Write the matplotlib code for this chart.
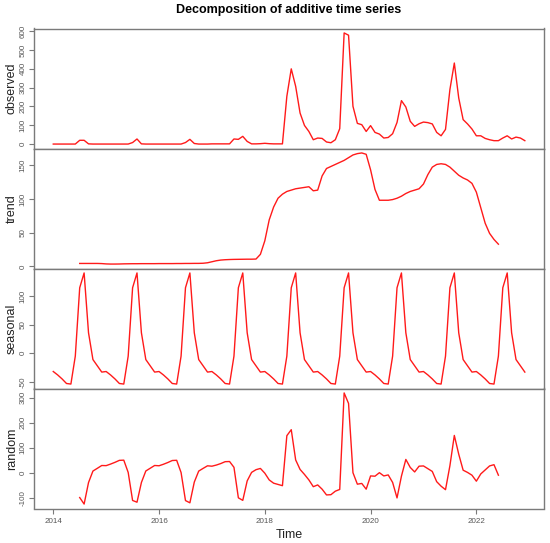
import numpy as np
import matplotlib
matplotlib.use("Agg")
import matplotlib.pyplot as plt

plt.rcParams['font.family'] = ['Liberation Sans', 'DejaVu Sans']

nan = np.nan
start_year = 2014
n_months = 108

observed = [
    0, 0, 0, 0, 0, 0, 20, 20, 1, 0, 0, 0,
    0, 0, 0, 0, 0, 0, 8, 27, 1, 0, 0, 0,
    0, 0, 0, 0, 0, 0, 8, 25, 3, 0, 0, 0,
    1, 1, 1, 1, 1, 27, 25, 41, 14, 1, 1, 2,
    4, 2, 1, 1, 1, 254, 400, 307, 165, 99, 67, 23,
    32, 30, 11, 7, 23, 82, 591, 579, 201, 110, 103, 67,
    98, 62, 53, 32, 35, 55, 115, 231, 197, 121, 94, 108,
    117, 114, 107, 62, 44, 78, 290, 431, 245, 130, 107, 80,
    44, 44, 30, 23, 18, 18, 32, 44, 27, 37, 32, 18,
]

trend = [nan] * 6 + [
    4.5, 4.5, 4.5, 4.5, 4.5, 4.3,
    3.8, 3.6, 3.6, 3.7, 3.9, 4.0,
    4.1, 4.1, 4.2, 4.2, 4.2, 4.2,
    4.3, 4.3, 4.3, 4.3, 4.4, 4.4,
    4.5, 4.5, 4.6, 4.6, 4.8, 5.5,
    7.0, 8.5, 9.5, 10.0, 10.3, 10.5,
    10.6, 10.7, 10.8, 10.8, 11.0, 18,
    38, 69, 88, 101, 107, 111,
    113, 115, 116, 117, 118, 112,
    113, 134, 145, 148, 151, 154,
    157, 161, 165, 167, 168, 166,
    143, 114, 98, 98, 98, 99,
    101, 104, 108, 111, 113, 115,
    122, 136, 147, 151, 152, 151,
    147, 141, 135, 131, 128, 123,
    110, 87, 64, 49, 40, 33,
] + [nan] * 6

seasonal_month = [-32, -38, -45, -53, -54, -5, 115, 141, 36, -11, -22, -33]

random_part = [nan] * 6 + [
    -99.5, -125.5, -39.5, 6.5, 17.5, 28.7,
    28.2, 34.4, 41.4, 49.3, 50.1, 1.0,
    -111.1, -118.1, -39.2, 6.8, 17.8, 28.8,
    27.7, 33.7, 40.7, 48.7, 49.6, 0.6,
    -111.5, -120.5, -37.6, 6.4, 17.2, 27.5,
    26.0, 30.5, 36.5, 44.0, 44.7, 21.5,
    -100.6, -110.7, -32.8, 1.2, 12.0, 17.0,
    -2, -29, -42, -47, -52, 148,
    172, 51, 13, -7, -29, -56,
    -49, -66, -89, -88, -74, -67,
    319, 277, 0, -46, -43, -66,
    -13, -14, 0, -13, -9, -39,
    -101, -14, 53, 21, 3, 26,
    27, 16, 5, -36, -54, -68,
    28, 149, 74, 10, 1, -10,
    -34, -5, 11, 27, 32, -10,
] + [nan] * 6

panel_names = ["observed", "trend", "seasonal", "random"]
panel_ticks = [
    [0, 100, 200, 300, 400, 500, 600],
    [0, 50, 100, 150],
    [-50, 0, 50, 100],
    [-100, 0, 100, 200, 300],
]
x_ticks = [2014, 2016, 2018, 2020, 2022]

t = start_year + np.arange(n_months) / 12.0
seasonal = np.tile(seasonal_month, n_months // 12)
series = [np.array(observed, float), np.array(trend, float),
          np.array(seasonal, float), np.array(random_part, float)]

W, H = 550, 543
fig = plt.figure(figsize=(W / 100, H / 100), dpi=100)
fig.patch.set_facecolor("white")

left_px, right_px = 34.4, 543.7
top_px, bottom_px = 28.5, 508.5
ph = (bottom_px - top_px) / 4

grey = "#7a7a7a"
tick_col = "#555555"

xmin, xmax = t[0], t[-1]
xs = (xmax - xmin) * 0.04

for k, (name, y, ticks) in enumerate(zip(panel_names, series, panel_ticks)):
    y0 = top_px + k * ph
    ax = fig.add_axes([left_px / W, 1 - (y0 + ph) / H,
                       (right_px - left_px) / W, ph / H])
    ax.plot(t, y, color="#ff1a1a", lw=1.0)
    lo, hi = np.nanmin(y), np.nanmax(y)
    sp = hi - lo
    ax.set_ylim(lo - 0.04 * sp, hi + 0.04 * sp)
    ax.set_xlim(xmin - xs, xmax + xs)
    for s in ax.spines.values():
        s.set_color(grey)
        s.set_linewidth(1.0)
    ax.set_yticks(ticks)
    ax.set_yticklabels([str(v) for v in ticks], rotation=90, va="center",
                       fontsize=5.8, color=tick_col)
    ax.tick_params(axis="y", direction="out", length=3.5, width=0.8,
                   color=grey, pad=2)
    ax.set_ylabel(name, fontsize=9, color="#222222")
    ax.yaxis.set_label_coords(-16.5 / (right_px - left_px), 0.5)
    if k < 3:
        ax.set_xticks([])
    else:
        ax.set_xticks(x_ticks)
        ax.set_xticklabels([str(v) for v in x_ticks], fontsize=5.8,
                           color=tick_col)
        ax.tick_params(axis="x", direction="out", length=3.5, width=0.8,
                       color=grey, pad=3)
        ax.set_xlabel("Time", fontsize=9, color="#222222", labelpad=3)

fig.text((left_px + right_px) / 2 / W, 1 - 10 / H,
         "Decomposition of additive time series",
         ha="center", va="center", fontsize=9, fontweight="bold")

fig.savefig("out.png", dpi=100, facecolor="white")
